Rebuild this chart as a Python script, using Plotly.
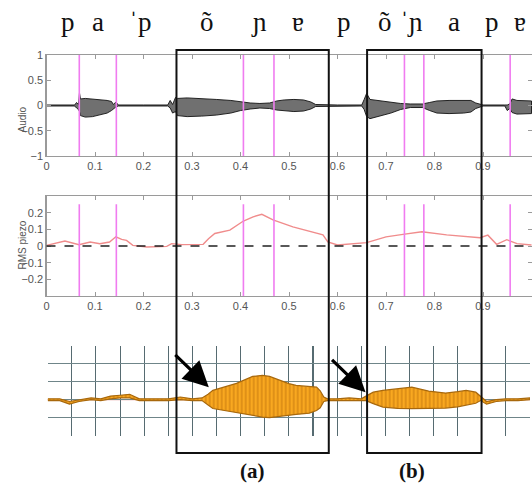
import plotly.graph_objects as go

# ---------------- data ----------------
# IPA transcription above the plot (label, x position in pixels of a 532px wide figure)
ipa_labels = ["p", "a", "ˈp", "õ", "ɲ", "ɐ", "p", "õ", "ˈɲ", "a", "p", "ɐ"]
ipa_pos_px = [68, 98, 140, 207, 259, 298, 344, 385, 411, 454, 492, 520]

# Audio waveform envelope (time in s, upper and lower envelope)
audio_t = [0.000, 0.058, 0.062, 0.066, 0.068, 0.070, 0.080, 0.095, 0.110, 0.125,
           0.134, 0.138, 0.143, 0.148, 0.200, 0.250, 0.255, 0.260, 0.266, 0.270,
           0.290, 0.320, 0.350, 0.380, 0.400, 0.420, 0.440, 0.460, 0.475, 0.490,
           0.510, 0.530, 0.545, 0.555, 0.600, 0.650, 0.655, 0.660, 0.667, 0.690,
           0.710, 0.730, 0.750, 0.775, 0.790, 0.805, 0.830, 0.860, 0.875, 0.885,
           0.900, 0.945, 0.950, 0.955, 0.960, 0.970, 0.985, 1.000]
audio_hi = [0.01, 0.01, 0.06, 0.02, 0.25, 0.13, 0.14, 0.13, 0.12, 0.10,
            0.08, 0.02, 0.07, 0.01, 0.01, 0.01, 0.10, 0.02, 0.16, 0.14,
            0.15, 0.14, 0.12, 0.10, 0.07, 0.05, 0.04, 0.05, 0.09, 0.11,
            0.12, 0.11, 0.07, 0.02, 0.01, 0.01, 0.12, 0.24, 0.12, 0.09,
            0.07, 0.04, 0.03, 0.03, 0.06, 0.09, 0.10, 0.10, 0.10, 0.05,
            0.01, 0.01, 0.01, 0.03, 0.13, 0.10, 0.09, 0.09]
audio_lo = [-0.01, -0.01, -0.05, -0.08, -0.12, -0.20, -0.23, -0.22, -0.18, -0.15,
            -0.10, -0.07, -0.03, -0.01, -0.01, -0.01, -0.05, -0.15, -0.12, -0.20,
            -0.22, -0.21, -0.19, -0.15, -0.10, -0.07, -0.05, -0.06, -0.09, -0.11,
            -0.12, -0.11, -0.07, -0.02, -0.01, -0.01, -0.08, -0.22, -0.26, -0.20,
            -0.15, -0.08, -0.04, -0.04, -0.10, -0.15, -0.16, -0.15, -0.13, -0.06,
            -0.01, -0.01, -0.10, -0.06, -0.14, -0.17, -0.16, -0.16]

# RMS piezo curve
rms_t = [0.000, 0.038, 0.067, 0.090, 0.110, 0.130, 0.143, 0.155, 0.165, 0.178,
         0.207, 0.248, 0.258, 0.279, 0.323, 0.334, 0.347, 0.378, 0.406, 0.426,
         0.444, 0.467, 0.508, 0.570, 0.580, 0.600, 0.660, 0.700, 0.735, 0.774,
         0.825, 0.894, 0.910, 0.928, 0.949, 0.970, 1.000]
rms_v = [0.004, 0.030, 0.008, 0.024, 0.014, 0.024, 0.055, 0.040, 0.034, 0.004,
         -0.006, -0.002, 0.014, 0.008, 0.010, 0.044, 0.075, 0.095, 0.150, 0.175,
         0.190, 0.157, 0.115, 0.067, 0.024, 0.006, 0.020, 0.055, 0.070, 0.085,
         0.067, 0.050, 0.065, 0.010, 0.038, 0.014, 0.006]

# Segment boundaries (magenta lines), in s
boundaries = [0.0676, 0.144, 0.406, 0.469, 0.738, 0.778, 0.956]

# Boxed regions (a) and (b), in s
box_a = [0.268, 0.582]
box_b = [0.661, 0.897]

# Bottom (grid) signal: position in grid divisions, upper / lower envelope
sig_x = [0.0, 0.5, 0.9, 1.3, 1.8, 2.2, 2.6, 3.0, 3.4, 3.8, 4.5, 5.0, 5.5, 6.0, 6.4,
         6.65, 6.85, 7.3, 7.83, 8.5, 8.9, 9.2, 9.6, 10.0, 10.3, 10.85, 11.15, 11.3,
         11.45, 11.6, 12.0, 12.5, 13.0, 13.2, 13.5, 13.9, 14.5, 15.1, 15.8, 16.5,
         17.0, 17.35, 17.75, 17.95, 18.2, 18.6, 19.0, 19.5, 20.0]
sig_hi = [0.05, 0.05, -0.1, 0.0, 0.1, 0.05, 0.2, 0.25, 0.3, 0.05, 0.05, 0.05, 0.15, 0.05, 0.1,
          0.3, 0.52, 0.7, 0.91, 1.3, 1.36, 1.3, 1.08, 0.9, 0.8, 0.72, 0.7, 0.5,
          0.15, 0.05, 0.05, 0.1, 0.05, 0.2, 0.42, 0.52, 0.6, 0.7, 0.48, 0.37,
          0.45, 0.52, 0.42, 0.2, -0.1, 0.0, 0.05, 0.05, 0.1]
sig_lo = [-0.05, -0.05, -0.25, -0.1, 0.0, -0.05, 0.05, 0.1, 0.1, -0.05, -0.05, -0.05, 0.0, -0.05, -0.05,
          -0.3, -0.49, -0.6, -0.69, -0.88, -0.97, -1.0, -0.95, -0.88, -0.82, -0.75, -0.6, -0.45,
          -0.1, -0.05, -0.05, -0.05, -0.05, -0.05, -0.22, -0.41, -0.48, -0.5, -0.5, -0.47,
          -0.4, -0.32, -0.2, -0.05, -0.25, -0.1, -0.05, -0.05, 0.0]

# Arrows: tip in grid divisions
arrow_tips = [(6.68, 0.69), (13.18, 0.41)]
panel_labels = ["(a)", "(b)"]

# ---------------- figure ----------------
W, H = 532, 504
def px_x(p):
    return p / W
def px_y(p):
    return 1 - p / H

AX_COL = "#9a9a9a"
TICK_FONT = dict(family="Liberation Sans, Arial", size=11, color="#555555")
MAG = "#f07cf0"
GRID = "#566b71"

fig = go.Figure()

# audio envelope polygon
fig.add_trace(go.Scatter(
    x=audio_t + audio_t[::-1], y=audio_hi + audio_lo[::-1],
    fill="toself", mode="lines",
    line=dict(color="#111111", width=0.9),
    fillcolor="#222222",
    fillpattern=dict(shape="|", fgcolor="#000000", bgcolor="rgba(110,110,110,0.65)",
                     size=2, solidity=0.6),
    xaxis="x", yaxis="y", hoverinfo="skip", showlegend=False))

# RMS piezo curve
fig.add_trace(go.Scatter(
    x=rms_t, y=rms_v, mode="lines",
    line=dict(color="#f08c8c", width=1.4),
    xaxis="x2", yaxis="y2", hoverinfo="skip", showlegend=False))

# bottom signal polygon
fig.add_trace(go.Scatter(
    x=sig_x + sig_x[::-1], y=sig_hi + sig_lo[::-1],
    fill="toself", mode="lines",
    line=dict(color="#a8680c", width=1.2),
    fillcolor="#f7a21b",
    fillpattern=dict(shape="|", fgcolor="#b86a08", bgcolor="#f9a820",
                     size=4, solidity=0.4),
    xaxis="x3", yaxis="y3", hoverinfo="skip", showlegend=False))

shapes = []
# dashed zero line in RMS panel
shapes.append(dict(type="line", xref="x2 domain", yref="y2", x0=0, x1=1, y0=0, y1=0,
                   line=dict(color="#222222", width=1.6, dash="dash"), layer="above"))
# thin baseline in bottom panel
shapes.append(dict(type="line", xref="x3 domain", yref="y3", x0=0, x1=1, y0=0, y1=0,
                   line=dict(color="#d86060", width=0.8), layer="below"))
# magenta boundaries
for b in boundaries:
    shapes.append(dict(type="line", xref="x", yref="y", x0=b, x1=b, y0=-1, y1=1,
                       line=dict(color=MAG, width=1.6), layer="above"))
    shapes.append(dict(type="line", xref="x2", yref="y2", x0=b, x1=b, y0=-0.3, y1=0.25,
                       line=dict(color=MAG, width=1.6), layer="above"))
# boxes
for bx in (box_a, box_b):
    shapes.append(dict(type="rect", xref="x", yref="paper", x0=bx[0], x1=bx[1],
                       y0=px_y(453), y1=px_y(50),
                       line=dict(color="#111111", width=2), fillcolor="rgba(0,0,0,0)",
                       layer="above"))

annotations = []
for lab, xp in zip(ipa_labels, ipa_pos_px):
    annotations.append(dict(text=lab, xref="paper", yref="paper", x=px_x(xp), y=px_y(22),
                            showarrow=False, xanchor="center", yanchor="middle",
                            font=dict(family="Liberation Serif, Times New Roman, serif",
                                      size=27, color="#111111")))
annotations.append(dict(text="Audio", xref="paper", yref="paper", x=px_x(14), y=px_y(105),
                        textangle=-90, showarrow=False,
                        font=dict(family="Liberation Sans, Arial", size=10, color="#555555")))
annotations.append(dict(text="RMS piezo", xref="paper", yref="paper", x=px_x(14), y=px_y(245),
                        textangle=-90, showarrow=False,
                        font=dict(family="Liberation Sans, Arial", size=10, color="#555555")))
for (tx, ty) in arrow_tips:
    annotations.append(dict(text="", xref="x3", yref="y3", x=tx, y=ty, ax=-35, ay=-34,
                            showarrow=True, arrowhead=2, arrowsize=1.6, arrowwidth=3.2,
                            arrowcolor="#000000"))
for lab, xp in zip(panel_labels, [252, 427]):
    annotations.append(dict(text="<b>%s</b>" % lab, xref="paper", yref="paper",
                            x=px_x(xp), y=px_y(485), showarrow=False,
                            font=dict(family="Liberation Serif, Times New Roman, serif",
                                      size=21, color="#111111")))

xticks = [0, 0.1, 0.2, 0.3, 0.4, 0.5, 0.6, 0.7, 0.8, 0.9]
common_x = dict(range=[0, 1.001], domain=[px_x(46.5), 1.0], showgrid=False, zeroline=False,
                showline=True, linecolor=AX_COL, linewidth=1.2, mirror="ticks",
                ticks="inside", ticklen=4, tickcolor=AX_COL, tickvals=xticks,
                ticktext=[("%g" % v) for v in xticks], tickfont=TICK_FONT,
                automargin=False)
common_y = dict(showgrid=False, zeroline=False, showline=True, linecolor=AX_COL,
                linewidth=1.2, mirror="ticks", ticks="inside", ticklen=4,
                tickcolor=AX_COL, tickfont=TICK_FONT, automargin=False)

fig.update_layout(
    width=W, height=H,
    margin=dict(l=0, r=0, t=0, b=0, pad=0, autoexpand=False),
    paper_bgcolor="white", plot_bgcolor="white",
    xaxis=dict(**common_x, anchor="y"),
    yaxis=dict(**common_y, anchor="x", range=[-1, 1], domain=[px_y(156), px_y(55)],
               tickvals=[-1, -0.5, 0, 0.5, 1]),
    xaxis2=dict(**common_x, anchor="y2"),
    yaxis2=dict(**common_y, anchor="x2", range=[-0.3, 0.3], domain=[px_y(296), px_y(196)],
                tickvals=[-0.2, -0.1, 0, 0.1, 0.2]),
    xaxis3=dict(anchor="y3", range=[0, 20], domain=[px_x(47.7), px_x(530)],
                showgrid=True, gridcolor=GRID, gridwidth=1.1, dtick=1, tick0=0,
                showticklabels=False, zeroline=False, showline=False, ticks="",
                automargin=False),
    yaxis3=dict(anchor="x3", range=[-2, 3], domain=[px_y(435.5), px_y(346)],
                showgrid=True, gridcolor="#6f8589", gridwidth=1.1,
                tickvals=[-2, -1, 0, 1, 2],
                showticklabels=False, zeroline=False, showline=False, ticks="",
                automargin=False),
    shapes=shapes, annotations=annotations,
)

# remove the browser's default page margin so the figure sits at the window's top-left
fig.write_html("out.html",
               config={"displayModeBar": False, "staticPlot": True},
               post_script="document.body.style.margin='0px';document.body.style.overflow='hidden';")
